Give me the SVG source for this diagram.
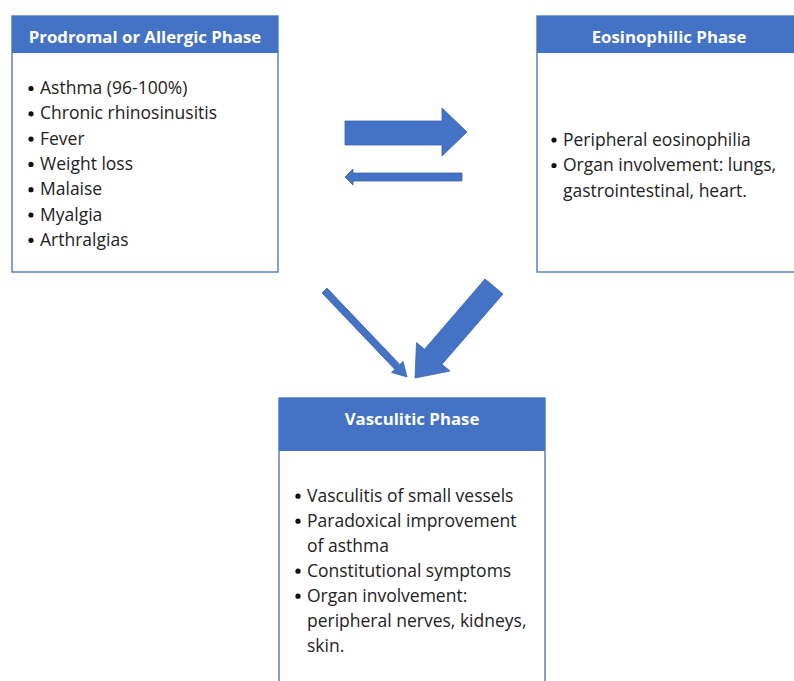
<svg xmlns="http://www.w3.org/2000/svg" width="794" height="681" viewBox="0 0 794 681">
<style>
.box{fill:#ffffff;stroke:#5b7fcc;stroke-width:1.5}
.hdr{fill:#4472c4}
.ttl{font-family:"Open Sans","Liberation Sans",sans-serif;font-weight:bold;font-size:16.8px;fill:#ffffff;text-anchor:middle}
.txt{font-family:"Open Sans","Liberation Sans",sans-serif;font-size:17.5px;fill:#222222}
.dot{fill:#111111}
.arw{fill:#4472c4;stroke:#3a62ad;stroke-width:0.8;stroke-linejoin:miter}
</style>
<rect width="794" height="681" fill="#ffffff"/>
<g id="prodromal">
<rect class="box" x="12" y="16" width="266" height="256"/>
<rect class="hdr" x="12" y="16" width="266" height="37"/>
<text class="ttl" x="145" y="43">Prodromal or Allergic Phase</text>
<g class="dot">
<circle cx="31" cy="88.5" r="2.6"/><circle cx="31" cy="113.8" r="2.6"/><circle cx="31" cy="139.1" r="2.6"/><circle cx="31" cy="164.4" r="2.6"/><circle cx="31" cy="189.7" r="2.6"/><circle cx="31" cy="215" r="2.6"/><circle cx="31" cy="240.3" r="2.6"/>
</g>
<text class="txt" x="40" y="94">Asthma (96-100%)</text>
<text class="txt" x="40" y="119.3">Chronic rhinosinusitis</text>
<text class="txt" x="40" y="144.6">Fever</text>
<text class="txt" x="40" y="169.9">Weight loss</text>
<text class="txt" x="40" y="195.2">Malaise</text>
<text class="txt" x="40" y="220.5">Myalgia</text>
<text class="txt" x="40" y="245.8">Arthralgias</text>
</g>
<g id="eosinophilic">
<rect class="box" x="537" y="16" width="264" height="256"/>
<rect class="hdr" x="537" y="16" width="264" height="37"/>
<text class="ttl" x="669" y="43">Eosinophilic Phase</text>
<g class="dot">
<circle cx="554" cy="140" r="2.6"/><circle cx="554" cy="165.5" r="2.6"/>
</g>
<text class="txt" x="563" y="145.5">Peripheral eosinophilia</text>
<text class="txt" x="563" y="171">Organ involvement: lungs,</text>
<text class="txt" x="563" y="196.5">gastrointestinal, heart.</text>
</g>
<g id="vasculitic">
<rect class="box" x="279" y="398" width="266" height="295"/>
<rect class="hdr" x="279" y="398" width="266" height="53"/>
<text class="ttl" x="412" y="425">Vasculitic Phase</text>
<g class="dot">
<circle cx="298" cy="496.2" r="2.6"/><circle cx="298" cy="521.2" r="2.6"/><circle cx="298" cy="571.2" r="2.6"/><circle cx="298" cy="596.2" r="2.6"/>
</g>
<text class="txt" x="307" y="501.7">Vasculitis of small vessels</text>
<text class="txt" x="307" y="526.7">Paradoxical improvement</text>
<text class="txt" x="307" y="551.7">of asthma</text>
<text class="txt" x="307" y="576.7">Constitutional symptoms</text>
<text class="txt" x="307" y="601.7">Organ involvement:</text>
<text class="txt" x="307" y="626.7">peripheral nerves, kidneys,</text>
<text class="txt" x="307" y="651.7">skin.</text>
</g>
<g id="connectors">
<polygon class="arw" points="345,121 442,121 442,108 467,132 442,156 442,145 345,145"/>
<polygon class="arw" points="462,173 353,173 353,169 345,177 353,185 353,181 462,181"/>
<polygon class="arw" points="327,288.1 399.8,364.5 403.1,361.4 407,377 391.5,372.4 394.8,369.3 322,292.9"/>
<polygon class="arw" points="485,279 503,294 442,364.3 450,371.1 415,378 416.5,342.5 424.5,349.3"/>
</g>
</svg>
